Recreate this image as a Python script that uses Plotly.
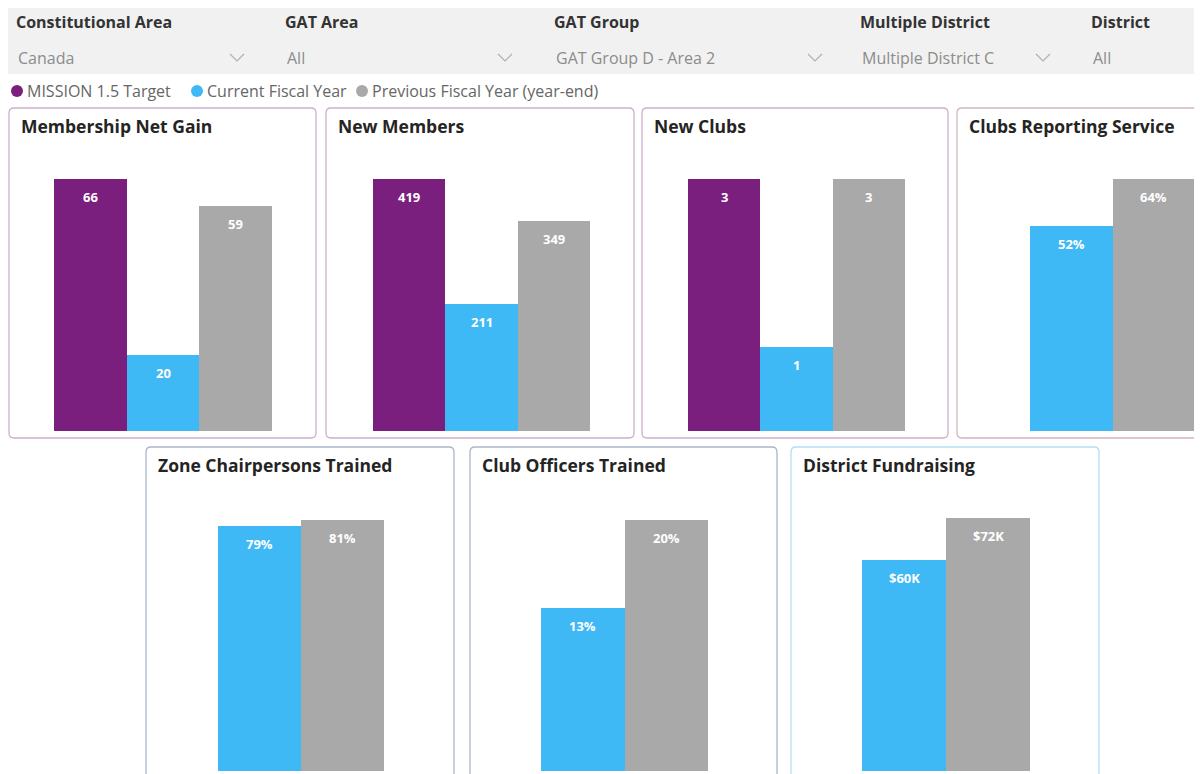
import plotly.graph_objects as go

W, H = 1202, 774
OFF = 8  # default body margin of the html page

# legend / series
series_names = ["MISSION 1.5 Target", "Current Fiscal Year", "Previous Fiscal Year (year-end)"]
series_colors = ["#7a1f7d", "#3fb8f6", "#a9a9a9"]

# slicers
filter_labels = ["Constitutional Area", "GAT Area", "GAT Group", "Multiple District", "District"]
filter_values = ["Canada", "All", "GAT Group D - Area 2", "Multiple District C", "All"]

# panel data
panel_titles = ["Membership Net Gain", "New Members", "New Clubs", "Clubs Reporting Service",
                "Zone Chairpersons Trained", "Club Officers Trained", "District Fundraising"]
net_gain = [66, 20, 59]
new_members = [419, 211, 349]
new_clubs = [3, 1, 3]
clubs_reporting = [52, 64]          # %
zone_chairs_trained = [79, 81]      # %
club_officers_trained = [13, 20]    # %
district_fundraising = [60, 72]     # $K

FONT = "Open Sans, Segoe UI, sans-serif"


def px(x):
    return (x - OFF) / W


def py(y):
    return 1 - (y - OFF) / H


def rrect(x0, y0, x1, y1, r=5):
    # rounded rectangle path in paper coords, inputs in pixels
    pts = [
        f"M {px(x0 + r)} {py(y0)}",
        f"L {px(x1 - r)} {py(y0)}",
        f"Q {px(x1)} {py(y0)} {px(x1)} {py(y0 + r)}",
        f"L {px(x1)} {py(y1 - r)}",
        f"Q {px(x1)} {py(y1)} {px(x1 - r)} {py(y1)}",
        f"L {px(x0 + r)} {py(y1)}",
        f"Q {px(x0)} {py(y1)} {px(x0)} {py(y1 - r)}",
        f"L {px(x0)} {py(y0 + r)}",
        f"Q {px(x0)} {py(y0)} {px(x0 + r)} {py(y0)}",
        "Z",
    ]
    return " ".join(pts)


# (values, label format, box x0, box x1, box top, box bottom, bar x0, bar x1, baseline, max top, border)
row1_border = "#cdb0cd"
row2_border = "#a9b6c9"
panels = [
    (net_gain, "{}", 9, 316, 108, 438, 54, 272, 431, 179, row1_border),
    (new_members, "{}", 326, 634, 108, 438, 373, 590, 431, 179, row1_border),
    (new_clubs, "{}", 642, 948, 108, 438, 688, 905, 431, 179, row1_border),
    (clubs_reporting, "{}%", 957, 1264, 108, 438, 1030, 1195, 431, 179, "#d4b4bd"),
    (zone_chairs_trained, "{}%", 146, 454, 447, 790, 218, 384, 771, 520, row2_border),
    (club_officers_trained, "{}%", 470, 777, 447, 790, 541, 708, 771, 520, row2_border),
    (district_fundraising, "${}K", 791, 1099, 447, 790, 862, 1030, 771, 518, "#b5def3"),
]

fig = go.Figure()
shapes = []
annotations = []
layout_axes = {}

# slicer bar
shapes.append(dict(type="rect", xref="paper", yref="paper", x0=px(5), x1=px(1215), y0=py(74), y1=py(5),
                   fillcolor="#f1f1f1", line_width=0, layer="below"))
filter_x = [14, 283, 552, 858, 1089]
chevron_x = [237, 505, 815, 1043]
for i, (lab, val) in enumerate(zip(filter_labels, filter_values)):
    annotations.append(dict(x=px(filter_x[i]), y=py(22), xref="paper", yref="paper", text=f"<b>{lab}</b>",
                            showarrow=False, xanchor="left", yanchor="middle",
                            font=dict(family=FONT, size=16, color="#333333")))
    annotations.append(dict(x=px(filter_x[i] + 2), y=py(58), xref="paper", yref="paper", text=val,
                            showarrow=False, xanchor="left", yanchor="middle",
                            font=dict(family=FONT, size=16, color="#8c8c8c")))
for cx in chevron_x:
    shapes.append(dict(type="path", xref="paper", yref="paper",
                       path=f"M {px(cx - 7)} {py(54)} L {px(cx)} {py(61)} L {px(cx + 7)} {py(54)}",
                       line=dict(color="#b0b0b0", width=1.2)))

# legend
legend_dot_x = [17, 197, 362]
for name, col, lx in zip(series_names, series_colors, legend_dot_x):
    shapes.append(dict(type="circle", xref="paper", yref="paper", x0=px(lx - 6), x1=px(lx + 6),
                       y0=py(97), y1=py(85), fillcolor=col, line_width=0))
    annotations.append(dict(x=px(lx + 8), y=py(91), xref="paper", yref="paper", text=name,
                            showarrow=False, xanchor="left", yanchor="middle",
                            font=dict(family=FONT, size=16, color="#666666")))

for i, (vals, fmt, bx0, bx1, btop, bbot, x0, x1, base, top, border) in enumerate(panels):
    n = i + 1
    xa = "x" if n == 1 else f"x{n}"
    ya = "y" if n == 1 else f"y{n}"
    cats = series_names[-len(vals):]
    cols = series_colors[-len(vals):]

    fig.add_trace(go.Bar(x=cats, y=vals, marker=dict(color=cols, line_width=0), xaxis=xa, yaxis=ya,
                         showlegend=False, hoverinfo="x+y"))

    layout_axes["xaxis" if n == 1 else f"xaxis{n}"] = dict(domain=[px(x0), px(x1)], anchor=ya, visible=False,
                                                           fixedrange=True)
    layout_axes["yaxis" if n == 1 else f"yaxis{n}"] = dict(domain=[py(base), py(top)], anchor=xa,
                                                           range=[0, max(vals)], visible=False,
                                                           fixedrange=True)

    for c, v in zip(cats, vals):
        annotations.append(dict(x=c, y=v, xref=xa, yref=ya, text=f"<b>{fmt.format(v)}</b>", showarrow=False,
                                xanchor="center", yanchor="top", yshift=-7,
                                font=dict(family=FONT, size=13, color="white")))

    shapes.append(dict(type="path", xref="paper", yref="paper", path=rrect(bx0, btop, bx1, bbot, 5),
                       line=dict(color=border, width=1.3), fillcolor="rgba(0,0,0,0)", layer="above"))
    annotations.append(dict(x=px(bx0 + 10), y=py(btop + 18), xref="paper", yref="paper",
                            text=f"<b>{panel_titles[i]}</b>", showarrow=False, xanchor="left",
                            yanchor="middle", font=dict(family=FONT, size=17.5, color="#252423")))

fig.update_layout(
    width=W, height=H,
    margin=dict(l=0, r=0, t=0, b=0),
    paper_bgcolor="white", plot_bgcolor="white",
    bargap=0,
    shapes=shapes,
    annotations=annotations,
    font=dict(family=FONT),
    **layout_axes,
)

fig.write_html("out.html")
